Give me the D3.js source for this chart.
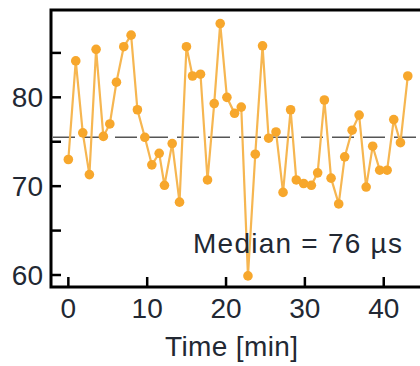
<!DOCTYPE html>
<html>
<head>
<meta charset="utf-8">
<script src="https://cdn.jsdelivr.net/npm/d3@7"></script>
<style>
  body { margin: 0; background: #fff; }
  svg { display: block; }
  text { font-family: "Liberation Sans", Arial, sans-serif; fill: #222833; }
</style>
</head>
<body>
<div id="chart"></div>
<script>
// time series of latency in µs, one sample every ~0.88 min
const times = [0, 0.94, 1.83, 2.67, 3.52, 4.44, 5.26, 6.1, 7.03, 7.96,
  8.76, 9.7, 10.59, 11.52, 12.19, 13.17, 14.1, 14.98, 15.75, 16.76,
  17.65, 18.5, 19.26, 20.11, 21.08, 21.93, 22.78, 23.71, 24.63, 25.4,
  26.34, 27.23, 28.19, 28.91, 29.84, 30.82, 31.62, 32.47, 33.32, 34.29,
  35.05, 35.99, 36.88, 37.77, 38.6, 39.49, 40.43, 41.27, 42.12, 43.05];
const latency = [73.0, 84.1, 76.0, 71.3, 85.4, 75.6, 77.0, 81.7, 85.7, 87.0,
  78.6, 75.5, 72.4, 73.7, 70.1, 74.8, 68.2, 85.7, 82.4, 82.6,
  70.7, 79.3, 88.3, 80.0, 78.2, 78.9, 59.9, 73.6, 85.8, 75.4,
  76.1, 69.3, 78.6, 70.7, 70.3, 70.1, 71.5, 79.7, 70.9, 68.0,
  73.3, 76.3, 78.0, 69.9, 74.5, 71.8, 71.8, 77.5, 74.9, 82.4];
const median = 75.5;
const xTicks = [0, 10, 20, 30, 40];
const yTicks = [60, 70, 80];
const yMinorTicks = [65, 75, 85];

const data = times.map((t, i) => ({ t: t, v: latency[i] }));

const width = 420, height = 366;
const margin = { top: 10, right: -3, bottom: 79, left: 51 };
const innerW = width - margin.left - margin.right;
const innerH = height - margin.top - margin.bottom;

const svg = d3.select('#chart')
  .append('svg')
  .attr('width', width)
  .attr('height', height);

const g = svg.append('g')
  .attr('transform', `translate(${margin.left},${margin.top})`);

const x = d3.scaleLinear().domain([-2.2, 44.98]).range([0, innerW]);
const y = d3.scaleLinear().domain([58.65, 89.83]).range([innerH, 0]);

// median dashed line
g.append('line')
  .attr('x1', 2).attr('x2', innerW)
  .attr('y1', y(median)).attr('y2', y(median))
  .attr('stroke', '#555')
  .attr('stroke-width', 1.5)
  .attr('stroke-dasharray', '22,9');

// series
g.append('path')
  .datum(data)
  .attr('fill', 'none')
  .attr('stroke', '#f6b651')
  .attr('stroke-width', 2.2)
  .attr('d', d3.line().x(d => x(d.t)).y(d => y(d.v)));

g.selectAll('.dot')
  .data(data)
  .enter()
  .append('circle')
  .attr('class', 'dot')
  .attr('cx', d => x(d.t))
  .attr('cy', d => y(d.v))
  .attr('r', 4.8)
  .attr('fill', '#f7a72c');

// frame
g.append('rect')
  .attr('width', innerW).attr('height', innerH)
  .attr('fill', 'none')
  .attr('stroke', '#000')
  .attr('stroke-width', 3);

// y ticks (inward)
g.selectAll('.ytick')
  .data(yTicks.concat(yMinorTicks))
  .enter()
  .append('line')
  .attr('x1', 0).attr('x2', 10)
  .attr('y1', d => y(d)).attr('y2', d => y(d))
  .attr('stroke', '#000')
  .attr('stroke-width', 2.5);

g.selectAll('.ylab')
  .data(yTicks)
  .enter()
  .append('text')
  .attr('x', -8)
  .attr('y', d => y(d))
  .attr('dy', '0.36em')
  .attr('text-anchor', 'end')
  .attr('font-size', 28)
  .text(d => d);

// x ticks (inward)
g.selectAll('.xtick')
  .data(xTicks)
  .enter()
  .append('line')
  .attr('x1', d => x(d)).attr('x2', d => x(d))
  .attr('y1', innerH).attr('y2', innerH - 10)
  .attr('stroke', '#000')
  .attr('stroke-width', 2.5);

g.selectAll('.xlab')
  .data(xTicks)
  .enter()
  .append('text')
  .attr('x', d => x(d))
  .attr('y', innerH + 31)
  .attr('text-anchor', 'middle')
  .attr('font-size', 28)
  .text(d => d);

// axis label
g.append('text')
  .attr('x', 165 - margin.left)
  .attr('y', innerH + 69)
  .attr('font-size', 28)
  .attr('textLength', 133)
  .attr('lengthAdjust', 'spacing')
  .text('Time [min]');

// annotation
g.append('text')
  .attr('x', 193 - margin.left)
  .attr('y', 253 - margin.top)
  .attr('font-size', 28)
  .attr('textLength', 209)
  .attr('lengthAdjust', 'spacing')
  .text('Median = 76 µs');
</script>
</body>
</html>
